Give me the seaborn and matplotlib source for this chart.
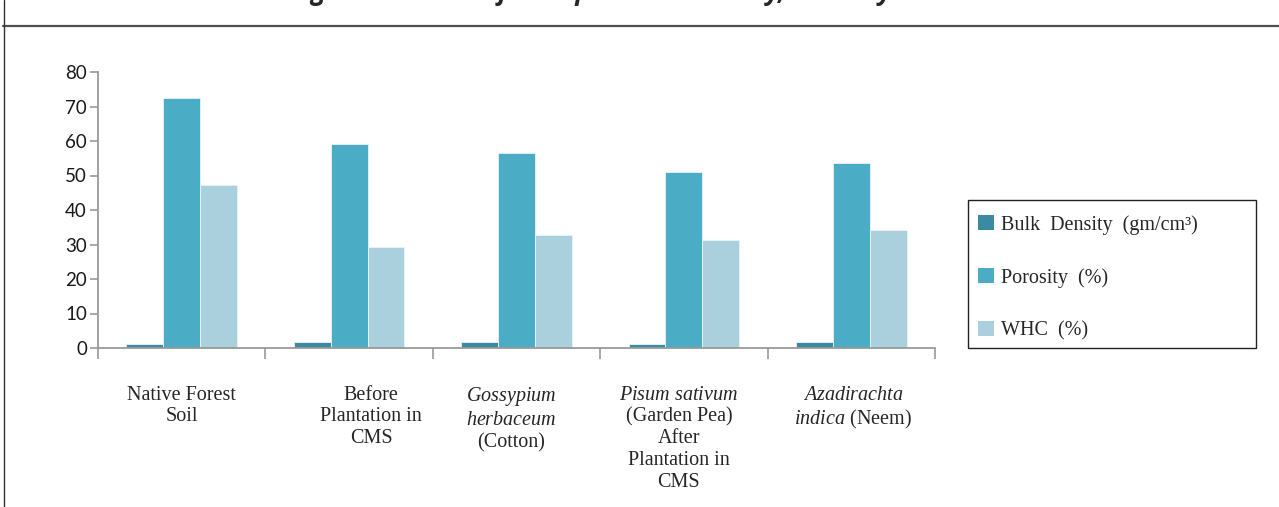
import matplotlib
matplotlib.use("Agg")
import matplotlib.pyplot as plt
from matplotlib.lines import Line2D
from matplotlib.patches import Rectangle
from matplotlib.ticker import FixedLocator
from matplotlib.transforms import ScaledTranslation
import seaborn as sns
import pandas as pd

categories = [
    "Native Forest\nSoil",
    "Before\nPlantation in\nCMS",
    "$\\mathit{Gossypium}$\n$\\mathit{herbaceum}$\n(Cotton)",
    "$\\mathit{Pisum\\ sativum}$\n(Garden Pea)\nAfter\nPlantation in\nCMS",
    "$\\mathit{Azadirachta}$\n$\\mathit{indica}$ (Neem)",
]
series_names = ["Bulk  Density  (gm/cm\u00b3)", "Porosity  (%)", "WHC  (%)"]
bulk_density = [1.3, 1.8, 1.8, 1.3, 1.8]
porosity = [72.5, 59.2, 56.4, 51.1, 53.7]
whc = [47.2, 29.3, 32.8, 31.2, 34.3]
y_ticks = [0, 10, 20, 30, 40, 50, 60, 70, 80]
title = "Figure 5: Result of the Spoil Bulk Density, Porosity and WHC"

colors = ["#3C8AA1", "#4BACC6", "#AACFDD"]

rows = []
for name, vals in zip(series_names, [bulk_density, porosity, whc]):
    for c, v in zip(categories, vals):
        rows.append({"category": c, "series": name, "value": v})
df = pd.DataFrame(rows)

sns.set_style("white")
plt.rcParams["mathtext.fontset"] = "custom"
plt.rcParams["mathtext.it"] = "Liberation Serif:italic"
plt.rcParams["mathtext.rm"] = "Liberation Serif"

W, H = 1279, 507
fig = plt.figure(figsize=(W / 100, H / 100), dpi=100)
ax = fig.add_axes([98 / W, 1 - 348 / H, (935 - 98) / W, (348 - 72) / H])

sns.barplot(data=df, x="category", y="value", hue="series", order=categories,
            hue_order=series_names, palette=dict(zip(series_names, colors)),
            width=0.66, gap=0, edgecolor="#EAF4F8", linewidth=0.6, ax=ax,
            saturation=1, errorbar=None)

ax.set_xlim(-0.5, len(categories) - 0.5)
ax.set_ylim(0, 80)
ax.set_yticks(y_ticks)
ax.set_yticklabels([str(t) for t in y_ticks], fontfamily="Lato", fontsize=13.5,
                   color="#1A1A1A")
ax.set_xlabel("")
ax.set_ylabel("")

for s in ["top", "right"]:
    ax.spines[s].set_visible(False)
for s in ["left", "bottom"]:
    ax.spines[s].set_color("#9A9A9A")
    ax.spines[s].set_linewidth(1.3)

ax.tick_params(axis="y", which="major", direction="out", length=6, width=1.2,
               color="#9A9A9A", pad=2, left=True)
ax.tick_params(axis="x", which="major", length=0, pad=27)
ax.xaxis.set_minor_locator(FixedLocator([i - 0.5 for i in range(len(categories) + 1)]))
ax.tick_params(axis="x", which="minor", direction="out", length=8, width=1.2,
               color="#9A9A9A", bottom=True)
label_shift_px = [0, 22, -5, -5, 2]
for lab, dx in zip(ax.get_xticklabels(), label_shift_px):
    lab.set_fontfamily("Liberation Serif")
    lab.set_fontsize(14.5)
    lab.set_verticalalignment("top")
    lab.set_multialignment("center")
    lab.set_linespacing(1.2)
    lab.set_transform(lab.get_transform() + ScaledTranslation(dx / 100, 0, fig.dpi_scale_trans))

leg = ax.legend(loc="upper left", bbox_to_anchor=(978 / W, 1 - 215 / H),
                bbox_transform=fig.transFigure, frameon=False,
                prop={"family": "Liberation Serif", "size": 14.5},
                handlelength=0.8, handleheight=0.8, handletextpad=0.35,
                labelspacing=1.65, borderpad=0, borderaxespad=0)
for h in leg.legend_handles:
    h.set_edgecolor("none")

fig.add_artist(Rectangle((968 / W, 1 - 348 / H), (1256 - 968) / W, (348 - 200) / H,
                         transform=fig.transFigure, fill=False, edgecolor="#222222",
                         linewidth=1.0))
fig.add_artist(Line2D([3 / W, 1], [1 - 26 / H, 1 - 26 / H], transform=fig.transFigure,
                      color="#505050", linewidth=1.6))
fig.add_artist(Line2D([3.5 / W, 3.5 / W], [0, 1], transform=fig.transFigure,
                      color="#303030", linewidth=1.0))

fig.text(0.507, 1.0, title, ha="center", va="baseline", fontsize=18.5,
         fontweight="bold", fontstyle="italic", fontfamily="Open Sans")

fig.savefig("out.png", dpi=100)
